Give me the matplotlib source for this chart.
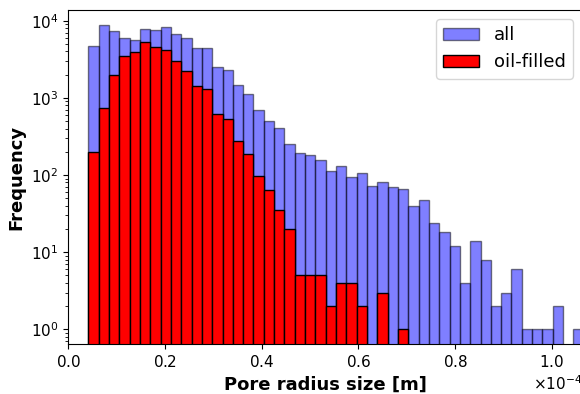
import numpy as np
import matplotlib
matplotlib.use('Agg')
import matplotlib.pyplot as plt

# bin layout (units of 1e-4 m)
r_min = 0.0414e-4
bin_w = 0.02135e-4
n_bins = 48

# counts per bin, all pores
all_counts = [4700, 8800, 7360, 5910, 5630, 7800, 7580, 8280, 6790, 6030,
              4390, 4420, 2540, 2300, 1460, 1130, 690, 502, 411, 255,
              192, 180, 156, 113, 132, 94, 105, 73, 81, 69,
              65, 40, 47, 24, 18, 12, 4, 14, 8, 2,
              3, 6, 1, 1, 1, 2, 0, 1]
# counts per bin, oil-filled pores
oil_counts = [200, 746, 2000, 3460, 3900, 5300, 4560, 4210, 2980, 2230,
              1440, 1300, 618, 533, 279, 187, 96, 63, 35, 20,
              5, 5, 5, 2, 4, 4, 2, 0, 3, 0,
              1, 0, 0, 0, 0, 0, 0, 0, 0, 0,
              0, 0, 0, 0, 0, 0, 0, 0]

edges = r_min + bin_w*np.arange(n_bins+1)
centers = 0.5*(edges[:-1]+edges[1:])

fig = plt.figure(figsize=(5.8, 3.94), dpi=100)
ax = fig.add_axes([0.1178, 0.1269, 0.8857, 0.8477])

ax.hist(centers, bins=edges, weights=all_counts, color='blue', alpha=0.5,
        edgecolor='black', label='all', log=True)
ax.hist(centers, bins=edges, weights=oil_counts, color='red',
        edgecolor='black', label='oil-filled', log=True)

ax.set_xlim(0, 1.0627e-4)
ax.set_ylim(0.645, 13770)
ax.ticklabel_format(axis='x', style='sci', scilimits=(0, 0), useMathText=True)
ax.tick_params(labelsize=11)
ax.xaxis.get_offset_text().set_fontsize(11)
ax.set_xlabel('Pore radius size [m]', fontsize=13, fontweight='bold')
ax.set_ylabel('Frequency', fontsize=13, fontweight='bold')
ax.legend(loc='upper right', fontsize=13)

fig.savefig('out.png', dpi=100)
